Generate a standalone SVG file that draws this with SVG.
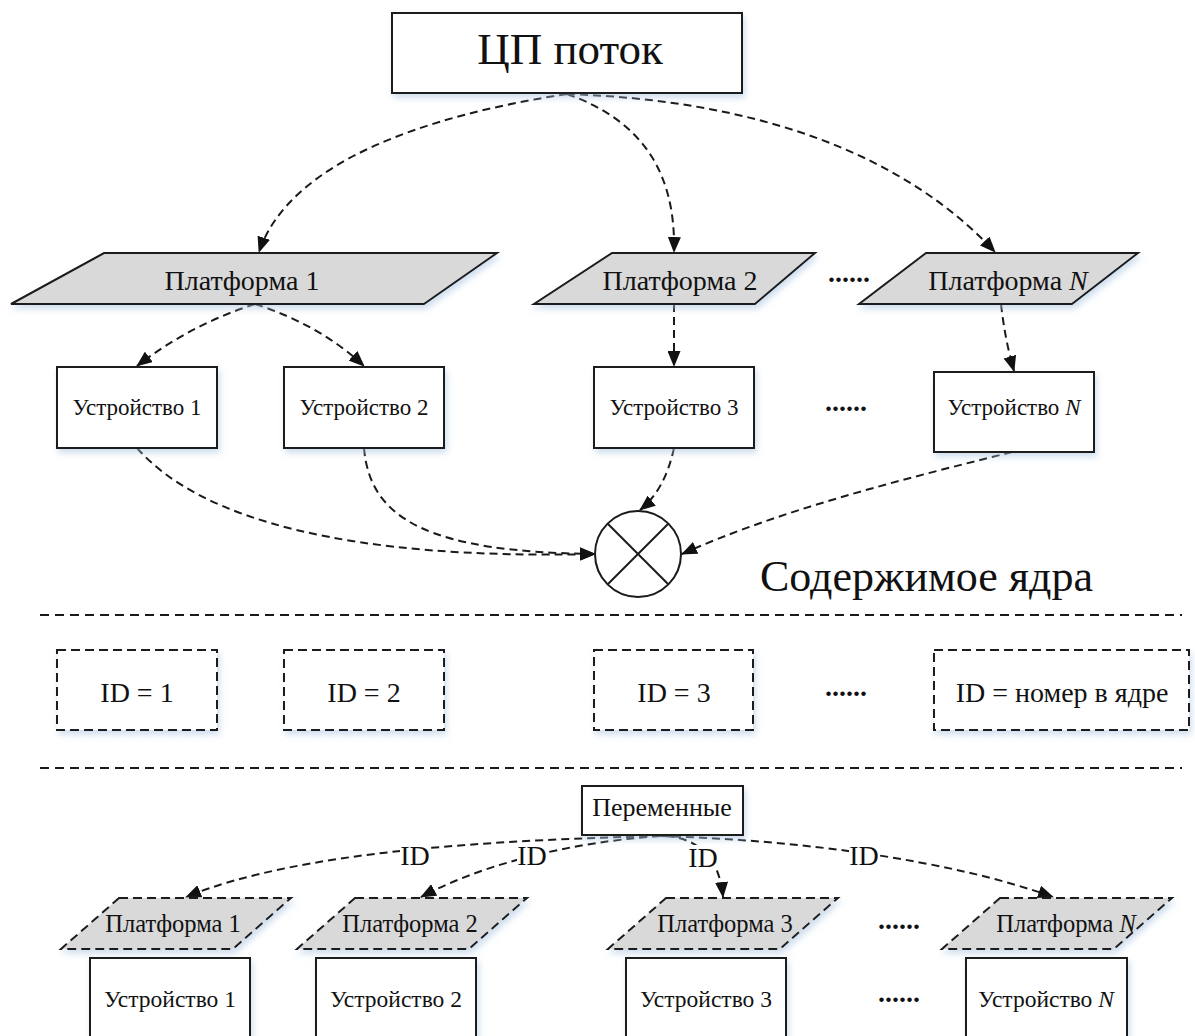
<svg xmlns="http://www.w3.org/2000/svg" width="1195" height="1036" viewBox="0 0 1195 1036" font-family="'Liberation Serif', 'Times New Roman', serif">
<defs>
<style>
text{font-family:'Liberation Serif','Times New Roman',serif;fill:#111;}
.box{fill:#fff;stroke:#1a1a1a;stroke-width:2;filter:url(#sh);}
.plat{fill:#d9d9d9;stroke:#1a1a1a;stroke-width:2;filter:url(#sh);}
.dplat{fill:#d9d9d9;stroke:#1a1a1a;stroke-width:2;stroke-dasharray:9 5;filter:url(#sh);}
.dbox{fill:#fff;stroke:#1a1a1a;stroke-width:2;stroke-dasharray:9 5;filter:url(#sh);}
.con{fill:none;stroke:#1a1a1a;stroke-width:2;stroke-dasharray:8 5;marker-end:url(#ah);}
.sep{fill:none;stroke:#1a1a1a;stroke-width:2;stroke-dasharray:9 6;}
.dots{font-size:28px;font-weight:bold;text-anchor:middle;}
.lbl{font-size:28px;text-anchor:middle;}
</style>
<filter id="sh" x="-10%" y="-10%" width="125%" height="140%">
<feDropShadow dx="2" dy="4" stdDeviation="3" flood-color="#a9c2e0" flood-opacity="0.55"/>
</filter>
<marker id="ah" viewBox="0 0 16 13" refX="15" refY="6.5" markerWidth="16" markerHeight="13" markerUnits="userSpaceOnUse" orient="auto">
<path d="M0,0 L16,6.5 L0,13 Z" fill="#111"/>
</marker>
</defs>

<g id="connectors">
<path class="con" d="M567,94 C430,115 290,160 259,252"/>
<path class="con" d="M567,94 C640,120 676,170 674,252"/>
<path class="con" d="M567,94 C750,100 900,150 995,252"/>
<path class="con" d="M255,304 Q190,325 137,366"/>
<path class="con" d="M255,304 Q320,325 364,366"/>
<path class="con" d="M674,304 L674,366"/>
<path class="con" d="M1001,304 Q1005,340 1014,371"/>
<path class="con" d="M137,448 C200,520 350,560 595,554"/>
<path class="con" d="M364,448 C370,520 430,552 595,554"/>
<path class="con" d="M674,448 Q665,490 640,510"/>
<path class="con" d="M1012,452 C900,480 780,510 682,554"/>
<path class="con" d="M660,836 C500,840 300,850 186,897"/>
<path class="con" d="M660,836 C600,840 500,855 421,897"/>
<path class="con" d="M640,836 C685,832 718,845 723,897"/>
<path class="con" d="M660,836 C800,840 950,860 1053,897"/>
<line class="sep" x1="40" y1="615" x2="1182" y2="615"/>
<line class="sep" x1="40" y1="768" x2="1182" y2="768"/>
<g id="edge-labels">
<rect x="400" y="843" width="31" height="24" fill="#fff"/>
<text class="lbl" x="415" y="865">ID</text>
<rect x="517" y="843" width="31" height="24" fill="#fff"/>
<text class="lbl" x="532" y="865">ID</text>
<rect x="688" y="845" width="31" height="24" fill="#fff"/>
<text class="lbl" x="703" y="867">ID</text>
<rect x="849" y="843" width="31" height="24" fill="#fff"/>
<text class="lbl" x="864" y="865">ID</text>
</g>
</g>

<g id="cpu">
<rect class="box" x="392" y="13" width="350" height="80"/>
<text x="570" y="64" font-size="45" text-anchor="middle">ЦП поток</text>
</g>

<g id="platform1">
<polygon class="plat" points="104,253 497,253 424,304 11,304"/>
<text x="242" y="290" font-size="28" text-anchor="middle">Платформа 1</text>
</g>
<g id="platform2">
<polygon class="plat" points="612,253 815,253 755,304 534,304"/>
<text x="680" y="290" font-size="28" text-anchor="middle">Платформа 2</text>
</g>
<g id="platformN">
<polygon class="plat" points="926,253 1138,253 1072,304 859,304"/>
<text x="1008" y="290" font-size="28" text-anchor="middle">Платформа <tspan font-style="italic">N</tspan></text>
</g>
<text class="dots" x="849" y="282">......</text>

<g id="device1">
<rect class="box" x="57" y="367" width="160" height="81"/>
<text x="137" y="415" font-size="23" text-anchor="middle">Устройство 1</text>
</g>
<g id="device2">
<rect class="box" x="284" y="367" width="160" height="81"/>
<text x="364" y="415" font-size="23" text-anchor="middle">Устройство 2</text>
</g>
<g id="device3">
<rect class="box" x="594" y="367" width="160" height="81"/>
<text x="674" y="415" font-size="23" text-anchor="middle">Устройство 3</text>
</g>
<g id="deviceN">
<rect class="box" x="934" y="372" width="160" height="80"/>
<text x="1014" y="415" font-size="23" text-anchor="middle">Устройство <tspan font-style="italic">N</tspan></text>
</g>
<text class="dots" x="846" y="411">......</text>

<g id="merge">
<circle cx="638" cy="554" r="43" fill="#fff" stroke="#1a1a1a" stroke-width="2"/>
<line x1="608" y1="524" x2="668" y2="584" stroke="#1a1a1a" stroke-width="2"/>
<line x1="668" y1="524" x2="608" y2="584" stroke="#1a1a1a" stroke-width="2"/>
</g>
<text x="760" y="591" font-size="44">Содержимое ядра</text>

<g id="id1">
<rect class="dbox" x="57" y="650" width="160" height="80"/>
<text x="137" y="702" font-size="28" text-anchor="middle">ID = 1</text>
</g>
<g id="id2">
<rect class="dbox" x="284" y="650" width="160" height="80"/>
<text x="364" y="702" font-size="28" text-anchor="middle">ID = 2</text>
</g>
<g id="id3">
<rect class="dbox" x="594" y="650" width="159" height="80"/>
<text x="674" y="702" font-size="28" text-anchor="middle">ID = 3</text>
</g>
<g id="idN">
<rect class="dbox" x="934" y="650" width="255" height="80"/>
<text x="1062" y="702" font-size="28" text-anchor="middle">ID = номер в ядре</text>
</g>
<text class="dots" x="846" y="696">......</text>

<g id="variables">
<rect class="box" x="582" y="786" width="161" height="49"/>
<text x="662" y="816" font-size="26" text-anchor="middle">Переменные</text>
</g>

<g id="lplatform1">
<polygon class="dplat" points="119,898 291,898 233,949 61,949"/>
<text x="173" y="932" font-size="24.5" text-anchor="middle">Платформа 1</text>
</g>
<g id="lplatform2">
<polygon class="dplat" points="355,898 527,898 469,949 297,949"/>
<text x="410" y="932" font-size="24.5" text-anchor="middle">Платформа 2</text>
</g>
<g id="lplatform3">
<polygon class="dplat" points="666,898 838,898 780,949 608,949"/>
<text x="725" y="932" font-size="24.5" text-anchor="middle">Платформа 3</text>
</g>
<g id="lplatformN">
<polygon class="dplat" points="1000,898 1172,898 1114,949 942,949"/>
<text x="1066" y="932" font-size="24.5" text-anchor="middle">Платформа <tspan font-style="italic">N</tspan></text>
</g>
<text class="dots" x="899" y="929">......</text>

<g id="ldevice1">
<rect class="box" x="90" y="958" width="160" height="100"/>
<text x="170" y="1007" font-size="23.5" text-anchor="middle">Устройство 1</text>
</g>
<g id="ldevice2">
<rect class="box" x="316" y="958" width="160" height="100"/>
<text x="396" y="1007" font-size="23.5" text-anchor="middle">Устройство 2</text>
</g>
<g id="ldevice3">
<rect class="box" x="626" y="958" width="160" height="100"/>
<text x="706" y="1007" font-size="23.5" text-anchor="middle">Устройство 3</text>
</g>
<g id="ldeviceN">
<rect class="box" x="966" y="958" width="161" height="100"/>
<text x="1046" y="1007" font-size="23.5" text-anchor="middle">Устройство <tspan font-style="italic">N</tspan></text>
</g>
<text class="dots" x="899" y="1002">......</text>
</svg>
